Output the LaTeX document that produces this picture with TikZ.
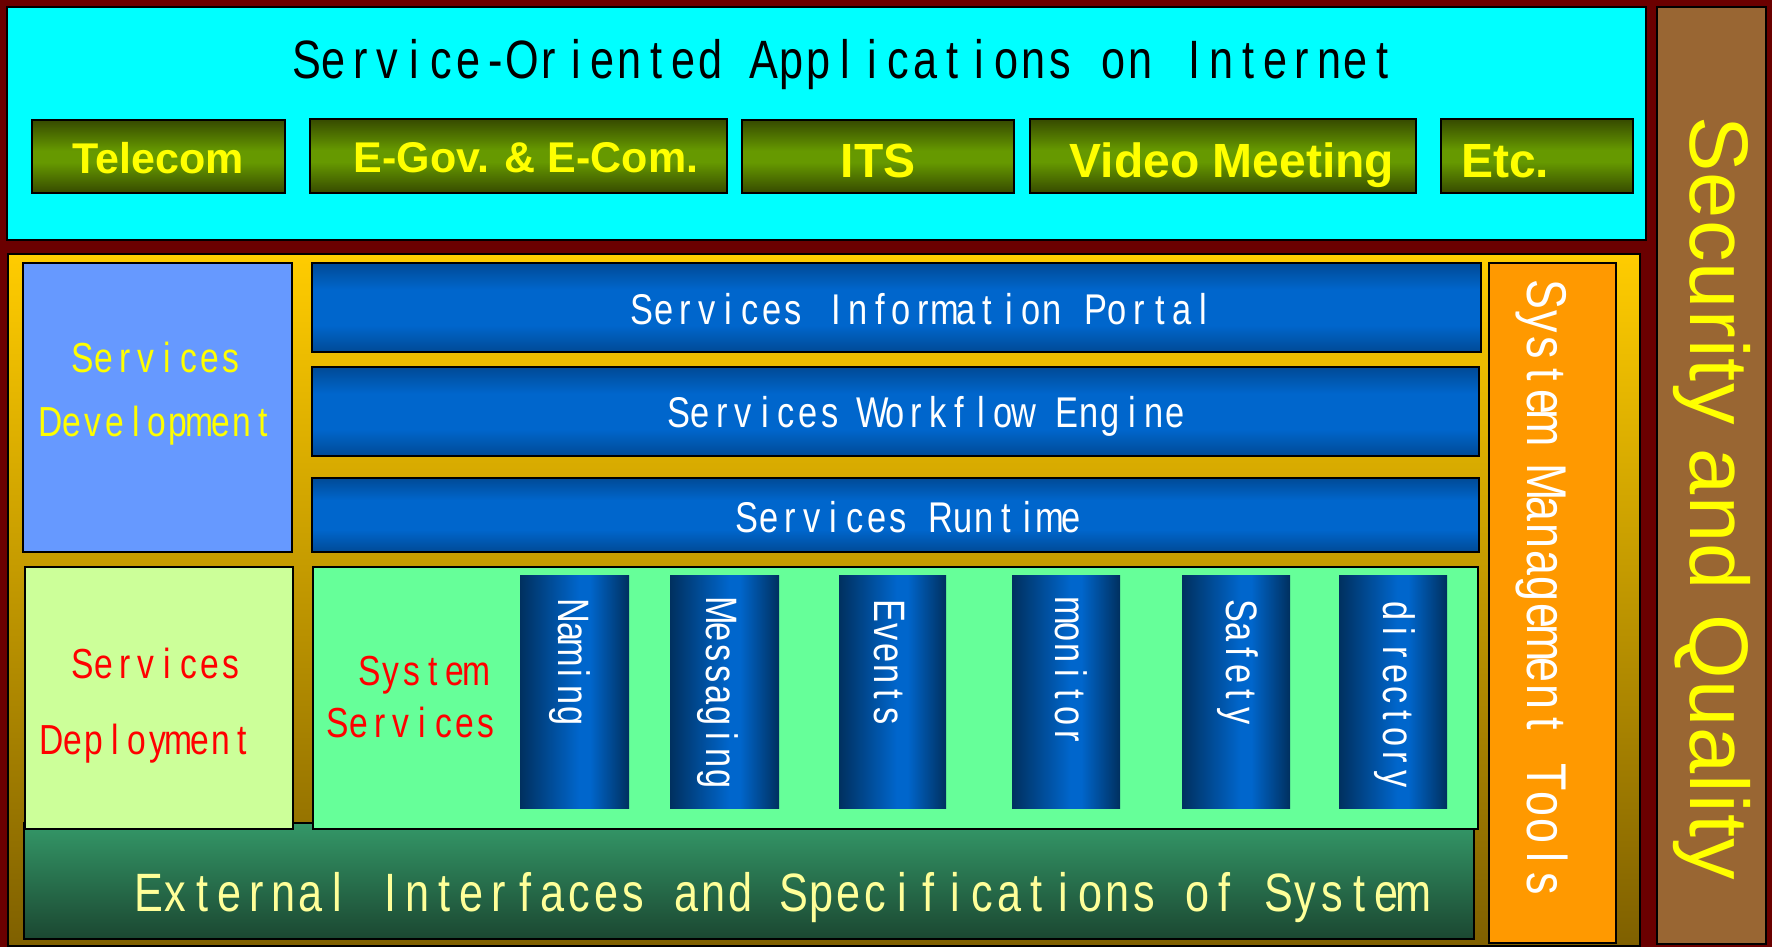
\documentclass[tikz,border=0pt]{standalone}
\usepackage{fontspec}
\usetikzlibrary{shadings}

\newfontfamily\plainsans{Liberation Sans}
\newfontfamily\widesans[LetterSpace=1.5]{Liberation Sans}
\newfontfamily\narrowsans[FakeStretch=0.80]{Liberation Sans}
\newfontfamily\pillarsans[FakeStretch=0.78]{Liberation Sans}

% fixed-pitch setting: every character sits in a cell of equal width
\makeatletter
\newlength\fp@pitch
\def\fp@word#1{\@tfor\fp@c:=#1\do{\makebox[\fp@pitch]{\fp@c}}}
\def\fp@words#1 #2\@nil{\fp@word{#1}\ifx\relax#2\relax\else\hspace*{\fp@pitch}\fp@words#2\@nil\fi}
\newcommand\pitched[2]{\setlength\fp@pitch{#1}\fp@words#2 \@nil}
\makeatother

\definecolor{bgMaroon}{HTML}{6B0000}
\definecolor{appCyan}{HTML}{00FFFF}
\definecolor{oliveDark}{HTML}{364A00}
\definecolor{oliveLight}{HTML}{669900}
\definecolor{appYellow}{HTML}{FFFF00}
\definecolor{goldTop}{HTML}{FFCC00}
\definecolor{goldBot}{HTML}{7F6000}
\definecolor{devBlue}{HTML}{6699FF}
\definecolor{deployGreen}{HTML}{CCFF99}
\definecolor{sysGreen}{HTML}{66FF99}
\definecolor{extTop}{HTML}{349868}
\definecolor{extBot}{HTML}{1B4731}
\definecolor{extText}{HTML}{FFFF99}
\definecolor{mgmtOrange}{HTML}{FF9900}
\definecolor{secBrown}{HTML}{996633}
\definecolor{barDark}{HTML}{004A96}
\definecolor{barBright}{HTML}{0066CC}
\definecolor{pilDark}{HTML}{00305F}
\definecolor{labelRed}{HTML}{FF0000}

\pgfdeclareverticalshading{oliveband}{100bp}{color(0bp)=(oliveDark); color(25bp)=(oliveDark); color(46bp)=(oliveLight); color(54bp)=(oliveLight); color(75bp)=(oliveDark); color(100bp)=(oliveDark)}
\pgfdeclareverticalshading{blueband}{100bp}{color(0bp)=(barDark); color(25bp)=(barDark); color(40bp)=(barBright); color(60bp)=(barBright); color(75bp)=(barDark); color(100bp)=(barDark)}
\pgfdeclarehorizontalshading{pillarband}{100bp}{color(0bp)=(pilDark); color(25bp)=(pilDark); color(52bp)=(barBright); color(57bp)=(barBright); color(75bp)=(pilDark); color(100bp)=(pilDark)}

\tikzset{
  frame/.style={draw=black, line width=1.2pt},
  appbox/.style={draw=black, line width=2.4pt, shade, shading=oliveband},
  bar/.style={frame, shade, shading=blueband},
  pillar/.style={shade, shading=pillarband},
  apptext/.style={inner sep=0pt, anchor=base, text=appYellow, font=\plainsans\bfseries\fontsize{43}{50}\selectfont},
  appbig/.style={apptext, font=\plainsans\bfseries\fontsize{48}{56}\selectfont},
  titletext/.style={inner sep=0pt, anchor=base, text=black, font=\narrowsans\fontsize{54}{60}\selectfont},
  bartext/.style={inner sep=0pt, anchor=base, text=white, font=\narrowsans\fontsize{43}{50}\selectfont},
  sidetext/.style={inner sep=0pt, anchor=base, font=\narrowsans\fontsize{42}{50}\selectfont},
  exttext/.style={inner sep=0pt, anchor=base, text=extText, font=\narrowsans\fontsize{54}{60}\selectfont},
  pillartext/.style={inner sep=0pt, anchor=base west, rotate=-90, text=white, font=\pillarsans\fontsize{44}{50}\selectfont},
  mgmttext/.style={inner sep=0pt, anchor=base west, rotate=-90, text=white, font=\narrowsans\fontsize{56}{60}\selectfont},
  sectext/.style={inner sep=0pt, anchor=base west, rotate=-90, text=appYellow, font=\widesans\fontsize{83}{90}\selectfont},
}

\begin{document}
\begin{tikzpicture}[x=1pt, y=-1pt]
\useasboundingbox (0,0) rectangle (1772,947);
\fill[bgMaroon] (0,0) rectangle (1772,947);

% application layer
\draw[frame, fill=appCyan] (7,7) rectangle (1646,240);
\node[titletext] (title) at (845,79) {\pitched{26.9pt}{Service-Oriented Applications on Internet}};

\draw[appbox] (32,120) rectangle (285,193);
\draw[appbox] (310,119) rectangle (727,193);
\draw[appbox] (742,120) rectangle (1014,193);
\draw[appbox] (1030,119) rectangle (1416,193);
\draw[appbox] (1441,119) rectangle (1633,193);
\node[apptext] (telecom) at (158,173) {Telecom};
\node[apptext] (egov) at (526,172) {E-Gov. \& E-Com.};
\node[appbig] (its) at (878,177) {ITS};
\node[appbig] (video) at (1232,178) {Video Meeting};
\node[appbig] (etc) at (1505,178) {Etc.};

% security column
\draw[frame, fill=secBrown] (1657,7) rectangle (1766,944);
\node[sectext] (security) at (1690,116) {Security and Quality};

% platform
\draw[frame, top color=goldTop, bottom color=goldBot] (8,254) rectangle (1640,946);

\draw[frame, fill=devBlue] (23,263) rectangle (292,552);
\node[sidetext, text=appYellow] (devA) at (157,372) {\pitched{21.2pt}{Services}};
\node[sidetext, text=appYellow] (devB) at (157,436) {\pitched{21.2pt}{Development}};

\draw[bar] (312,263) rectangle (1481,352);
\draw[bar] (312,367) rectangle (1479,456);
\draw[bar] (312,478) rectangle (1479,552);
\node[bartext] (portal) at (923,324) {\pitched{21.6pt}{Services Information Portal}};
\node[bartext] (workflow) at (927,427) {\pitched{21.6pt}{Services Workflow Engine}};
\node[bartext] (runtime) at (909,532) {\pitched{21.6pt}{Services Runtime}};

\draw[frame, top color=extTop, bottom color=extBot] (24,823) rectangle (1474,939);
\node[exttext] (external) at (781,911) {\pitched{26.9pt}{External Interfaces and Specifications of System}};

\draw[frame, fill=deployGreen] (25,567) rectangle (293,829);
\node[sidetext, text=labelRed] (depA) at (157,678) {\pitched{21.2pt}{Services}};
\node[sidetext, text=labelRed] (depB) at (147,754) {\pitched{21.2pt}{Deployment}};

\draw[frame, fill=sysGreen] (313,567) rectangle (1478,829);
\node[sidetext, text=labelRed] (sysA) at (423,685) {\pitched{21.2pt}{System}};
\node[sidetext, text=labelRed] (sysB) at (412,737) {\pitched{21.2pt}{Services}};

% system service pillars
\fill[pillar] (520,575) rectangle (629,808);
\fill[pillar] (670,575) rectangle (779,808);
\fill[pillar] (839,575) rectangle (946,808);
\fill[pillar] (1012,575) rectangle (1120,808);
\fill[pillar] (1182,575) rectangle (1290,808);
\fill[pillar] (1339,575) rectangle (1447,808);
\node[pillartext] (naming) at (558,600) {\pitched{21pt}{Naming}};
\node[pillartext] (messaging) at (706,600) {\pitched{21pt}{Messaging}};
\node[pillartext] (events) at (874,600) {\pitched{21pt}{Events}};
\node[pillartext] (monitor) at (1055,600) {\pitched{21pt}{monitor}};
\node[pillartext] (safety) at (1226,600) {\pitched{21pt}{Safety}};
\node[pillartext] (directory) at (1383,600) {\pitched{21pt}{directory}};

% management column
\draw[frame, fill=mgmtOrange] (1489,263) rectangle (1616,943);
\node[mgmttext] (mgmt) at (1527,281) {\pitched{26.8pt}{System Management Tools}};
\end{tikzpicture}
\end{document}
